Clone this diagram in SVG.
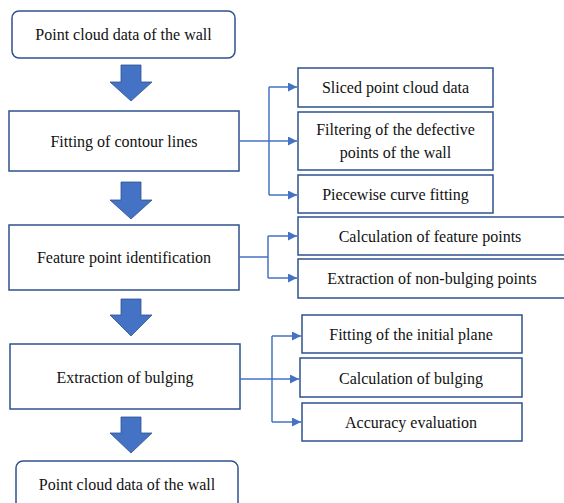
<svg xmlns="http://www.w3.org/2000/svg" width="564" height="503" viewBox="0 0 564 503">
<defs>
<style>
.box{fill:#fff;stroke:#2F528F;stroke-width:1.5}
.t{font-family:'Liberation Serif','DejaVu Serif',serif;font-size:16px;fill:#111;text-anchor:middle;dominant-baseline:central}
.ln{fill:none;stroke:#4472C4;stroke-width:1.5}
.blk{fill:#4472C4;stroke:#2F528F;stroke-width:0.8}
</style>
<marker id="ah" viewBox="0 0 10 10" refX="10" refY="5" markerWidth="10" markerHeight="9" markerUnits="userSpaceOnUse" orient="auto">
<path d="M0,0 L10,5 L0,10 z" fill="#4472C4"/>
</marker>
</defs>
<rect width="564" height="503" fill="#fff"/>

<g id="n_start"><rect class="box" x="12" y="11" width="223" height="47" rx="7"/><text class="t" font-family="Liberation Serif, serif" x="123.5" y="34.5">Point cloud data of the wall</text></g>
<g id="n_fit"><rect class="box" x="9" y="111" width="230" height="60"/><text class="t" x="124" y="141">Fitting of contour lines</text></g>
<g id="n_feat"><rect class="box" x="9" y="225" width="230" height="65"/><text class="t" x="124" y="257.5">Feature point identification</text></g>
<g id="n_ext"><rect class="box" x="10" y="344" width="230" height="65"/><text class="t" x="125" y="377">Extraction of bulging</text></g>
<g id="n_end"><rect class="box" x="16" y="461" width="222" height="50" rx="7"/><text class="t" x="127" y="484">Point cloud data of the wall</text></g>

<g id="n_slice"><rect class="box" x="298" y="68" width="195" height="39"/><text class="t" x="395.5" y="87.5">Sliced point cloud data</text></g>
<g id="n_filter"><rect class="box" x="298" y="112" width="195" height="58"/><text class="t" x="395.5" y="129">Filtering of the defective</text><text class="t" x="395.5" y="152">points of the wall</text></g>
<g id="n_piece"><rect class="box" x="298" y="175" width="195" height="38"/><text class="t" x="395.5" y="194">Piecewise curve fitting</text></g>

<g id="n_calcfeat"><rect class="box" x="298" y="217" width="272" height="38"/><text class="t" x="430" y="236">Calculation of feature points</text></g>
<g id="n_nonbulge"><rect class="box" x="298" y="259" width="272" height="39"/><text class="t" x="432" y="278.5">Extraction of non-bulging points</text></g>

<g id="n_plane"><rect class="box" x="302" y="315" width="220" height="38"/><text class="t" x="411" y="334">Fitting of the initial plane</text></g>
<g id="n_calcbulge"><rect class="box" x="300" y="358" width="222" height="39"/><text class="t" x="411" y="378">Calculation of bulging</text></g>
<g id="n_acc"><rect class="box" x="302" y="403" width="220" height="38"/><text class="t" x="411" y="422">Accuracy evaluation</text></g>

<g id="connectors">
<path class="blk" d="M121,65 H141 V82 H152 L131,101 L110,82 H121 Z"/>
<path class="blk" d="M121,182 H141 V200 H152 L131,219 L110,200 H121 Z"/>
<path class="blk" d="M121,299 H141 V315 H152 L131,336 L110,315 H121 Z"/>
<path class="blk" d="M121,417 H141 V433 H152 L131,453 L110,433 H121 Z"/>

<path class="ln" d="M239,141 H297" marker-end="url(#ah)"/>
<path class="ln" d="M269,87 H297" marker-end="url(#ah)"/>
<path class="ln" d="M269,195 H297" marker-end="url(#ah)"/>
<path class="ln" d="M269,87 V195"/>

<path class="ln" d="M239,257 H268"/>
<path class="ln" d="M268,236 V278"/>
<path class="ln" d="M268,236 H297" marker-end="url(#ah)"/>
<path class="ln" d="M268,278 H297" marker-end="url(#ah)"/>

<path class="ln" d="M240,379 H299" marker-end="url(#ah)"/>
<path class="ln" d="M272,336 V422"/>
<path class="ln" d="M272,336 H301" marker-end="url(#ah)"/>
<path class="ln" d="M272,422 H301" marker-end="url(#ah)"/>
</g>
</svg>
